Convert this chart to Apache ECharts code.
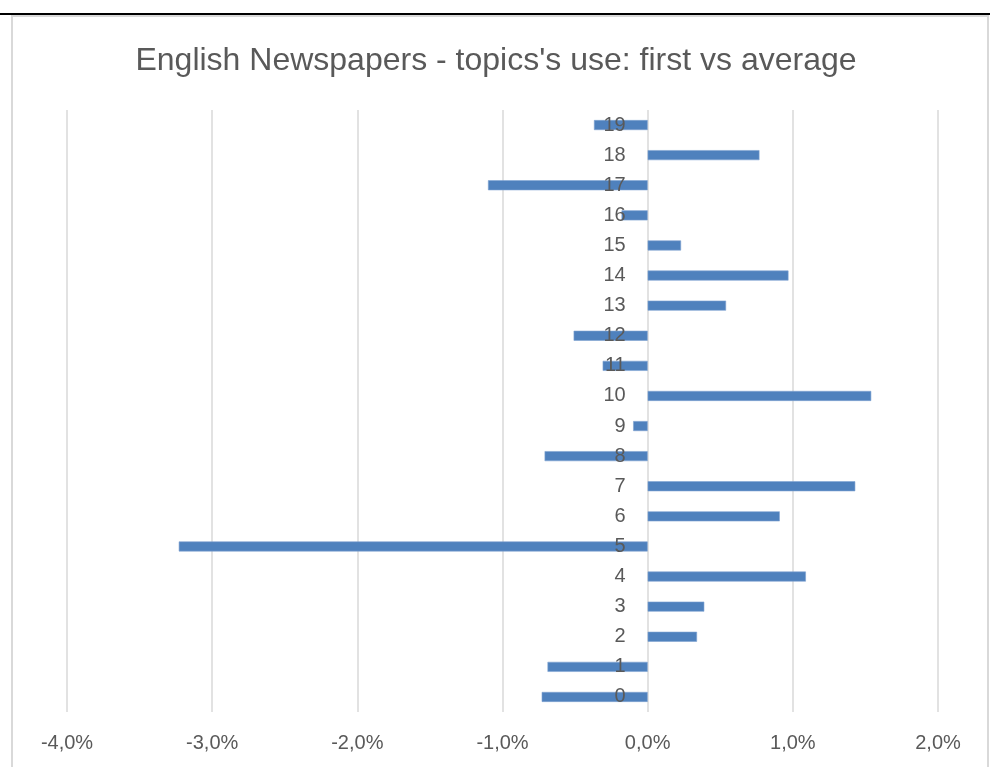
<!DOCTYPE html>
<html>
<head>
<meta charset="utf-8">
<script src="https://cdn.jsdelivr.net/npm/echarts@6/dist/echarts.min.js"></script>
<style>
  html, body { margin: 0; padding: 0; background: #fff; }
  #chart { width: 992px; height: 767px; }
</style>
</head>
<body>
<div id="chart"></div>
<script>
// Topic ids (bottom to top) and the gap between the first paper's share and the average, in %
const topics = ['0','1','2','3','4','5','6','7','8','9','10','11','12','13','14','15','16','17','18','19'];
const diffPct = [-0.73, -0.69, 0.34, 0.39, 1.09, -3.23, 0.91, 1.43, -0.71, -0.10,
                 1.54, -0.31, -0.51, 0.54, 0.97, 0.23, -0.18, -1.10, 0.77, -0.37];
const xTicks = { min: -4, max: 2, step: 1 };

const textColor = '#595959';
const fontFam = '"Liberation Sans", Arial, sans-serif';
const gridLeft = 67;

const chart = echarts.init(document.getElementById('chart'), null, { renderer: 'canvas' });
chart.setOption({
  backgroundColor: '#ffffff',
  animation: false,
  title: {
    text: "English Newspapers - topics's use: first vs average",
    left: 'center',
    top: 40,
    textStyle: { color: textColor, fontFamily: fontFam, fontSize: 32, fontWeight: 'normal' }
  },
  graphic: [
    { type: 'line', shape: { x1: 0, y1: 14, x2: 990, y2: 14 },
      style: { stroke: '#000', lineWidth: 2 }, silent: true },
    { type: 'rect', shape: { x: 12, y: 16, width: 976, height: 800 },
      style: { fill: 'none', stroke: '#d9d9d9', lineWidth: 2 }, silent: true }
  ],
  grid: { left: gridLeft, right: 54, top: 110, bottom: 55 },
  xAxis: {
    type: 'value',
    min: xTicks.min,
    max: xTicks.max,
    interval: xTicks.step,
    axisLine: { show: false },
    axisTick: { show: false },
    splitLine: { show: true, lineStyle: { color: '#d9d9d9', width: 1.5 } },
    axisLabel: {
      color: textColor, fontFamily: fontFam, fontSize: 20, margin: 21,
      formatter: v => v.toFixed(1).replace('.', ',') + '%'
    }
  },
  yAxis: {
    type: 'category',
    data: topics,
    z: 5,
    axisLine: { show: false, onZero: false },
    axisTick: { show: false },
    splitLine: { show: false },
    axisLabel: { color: textColor, fontFamily: fontFam, fontSize: 20, margin: 22 }
  },
  series: [{
    type: 'bar',
    data: diffPct,
    barWidth: 10,
    itemStyle: { color: '#4f81bd', borderColor: '#7fa3d1', borderWidth: 0.6 }
  }]
});

// Move the category labels onto the 0 % line of the value axis
const zeroX = chart.convertToPixel({ xAxisIndex: 0 }, 0);
chart.setOption({ yAxis: { offset: gridLeft - zeroX } });
</script>
</body>
</html>
